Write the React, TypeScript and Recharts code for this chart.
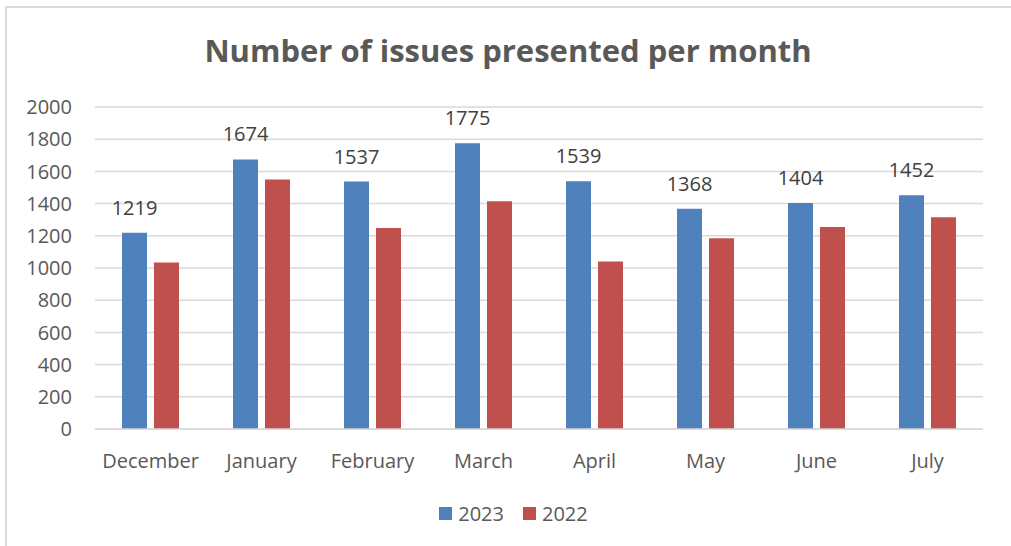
import { Bar, BarChart, CartesianGrid, LabelList, Legend, XAxis, YAxis } from "recharts";

const months = ["December", "January", "February", "March", "April", "May", "June", "July"];
const issues2023 = [1219, 1674, 1537, 1775, 1539, 1368, 1404, 1452];
const issues2022 = [1034, 1549, 1249, 1414, 1040, 1185, 1255, 1315];
const yTicks = [0, 200, 400, 600, 800, 1000, 1200, 1400, 1600, 1800, 2000];
const seriesOrder = ["2023", "2022"];

const data = months.map((m, i) => ({ month: m, y2023: issues2023[i], y2022: issues2022[i] }));

const FONT = "'Open Sans', sans-serif";
const BLUE = "#4F81BD";
const RED = "#C0504D";

function LegendContent(props: any) {
  const items = [...(props.payload || [])].sort(
    (a: any, b: any) => seriesOrder.indexOf(String(a.value)) - seriesOrder.indexOf(String(b.value))
  );
  return (
    <div style={{ display: "flex", justifyContent: "center", alignItems: "center", fontFamily: FONT, fontSize: 20, color: "#595959" }}>
      {items.map((it: any, i: number) => (
        <div key={i} style={{ display: "flex", alignItems: "center", marginLeft: i ? 19 : 0 }}>
          <span style={{ width: 13, height: 13, background: it.color, display: "inline-block", marginRight: 6 }} />
          <span>{it.value}</span>
        </div>
      ))}
    </div>
  );
}

export default function App() {
  return (
    <div style={{ position: "absolute", left: 0, top: 0, width: 1011, height: 546, background: "#fff", overflow: "hidden" }}>
      <div
        style={{
          position: "absolute",
          left: 5,
          top: 6,
          width: 1100,
          height: 600,
          borderLeft: "2px solid #D9D9D9",
          borderTop: "2px solid #D9D9D9",
        }}
      />
      <div
        style={{
          position: "absolute",
          left: 0,
          top: 29,
          width: 1016,
          textAlign: "center",
          fontFamily: FONT,
          fontWeight: 700,
          fontSize: 31,
          color: "#595959",
        }}
      >
        Number of issues presented per month
      </div>
      <div style={{ position: "absolute", left: 0, top: 0 }}>
        <BarChart
          width={1011}
          height={546}
          data={data}
          margin={{ top: 107, right: 28, left: 0, bottom: 77 }}
          barSize={25}
          barGap={7}
        >
          <CartesianGrid stroke="#D9D9D9" strokeWidth={1.5} vertical={false} />
          <XAxis
            dataKey="month"
            height={40}
            tickLine={false}
            tickSize={0}
            tickMargin={25}
            axisLine={{ stroke: "#D9D9D9", strokeWidth: 1.5 }}
            tick={{ fill: "#595959", fontSize: 20, fontFamily: FONT }}
          />
          <YAxis
            width={95}
            domain={[0, 2000]}
            ticks={yTicks}
            axisLine={false}
            tickLine={false}
            tickSize={0}
            tickMargin={23}
            tick={{ fill: "#595959", fontSize: 20, fontFamily: FONT }}
          />
          <Legend
            layout="horizontal"
            verticalAlign="middle"
            content={<LegendContent />}
            wrapperStyle={{ top: 500, left: 0, width: 1027 }}
          />
          <Bar dataKey="y2023" name="2023" fill={BLUE} isAnimationActive={false}>
            <LabelList dataKey="y2023" position="top" offset={18} fill="#404040" fontSize={20} fontFamily={FONT} />
          </Bar>
          <Bar dataKey="y2022" name="2022" fill={RED} isAnimationActive={false} />
        </BarChart>
      </div>
    </div>
  );
}
